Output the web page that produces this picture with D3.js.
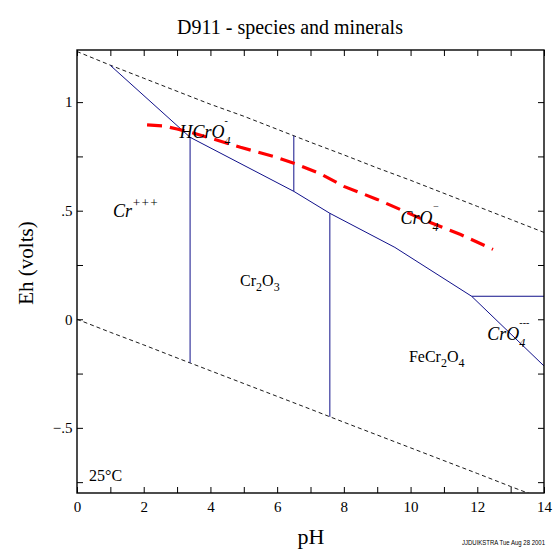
<!DOCTYPE html>
<html>
<head>
<meta charset="utf-8">
<script src="https://cdn.jsdelivr.net/npm/d3@7"></script>
<style>
  body { margin: 0; background: #fff; }
  svg text { font-family: "Liberation Serif", "DejaVu Serif", serif; fill: #000; }
  svg text.credit { font-family: "Liberation Sans", Arial, sans-serif; }
</style>
</head>
<body>
<svg id="chart" width="557" height="552"></svg>
<script>
// axis settings
const phDomain = [0, 14];
const ehDomain = [-0.8, 1.24];
const phLabels = [0, 2, 4, 6, 8, 10, 12, 14];
const ehLabels = [1, 0.5, 0, -0.5];

// water stability limits (dashed)
const upperWater = [[0, 1.233], [1, 1.17], [2, 1.11], [3, 1.05], [4, 0.99], [5, 0.935], [6, 0.875], [7, 0.815], [8, 0.757], [9, 0.697], [10, 0.64], [11, 0.58], [12, 0.52], [13, 0.46], [14, 0.40]];
const lowerWater = [[0, 0.0], [1, -0.06], [2, -0.118], [3, -0.178], [4, -0.237], [5, -0.296], [6, -0.355], [7, -0.414], [8, -0.474], [9, -0.533], [10, -0.592], [11, -0.651], [12, -0.71], [13, -0.77], [13.6, -0.805]];

// field boundaries (blue)
const mainBoundary = [[1.0, 1.169], [3.39, 0.838], [6.5, 0.589], [7.58, 0.488], [9.53, 0.331], [11.83, 0.106], [14, -0.215]];
const cr3Boundary = [[3.39, 0.838], [3.39, -0.2]];
const fecrBoundary = [[7.58, 0.488], [7.58, -0.449]];
const cro4Boundary = [[11.83, 0.106], [14, 0.106]];
const hcroBoundary = [[6.5, 0.845], [6.5, 0.589]];

// red dashed line
const redLine = [[2.1, 0.895], [2.6, 0.89], [3.0, 0.876], [3.4, 0.861], [4.0, 0.834], [4.9, 0.792], [6.0, 0.745], [6.6, 0.713], [7.3, 0.67], [8.0, 0.612], [9.0, 0.552], [10.5, 0.451], [11.5, 0.39], [12.47, 0.322]];

// species labels: [pH, Eh, main, sub, sup, italic]
const labels = [
  [3.07, 0.835, "HCrO", "4", "-", true],
  [1.08, 0.47, "Cr", "", "+++", true],
  [4.89, 0.153, "Cr", "2", "", false, "O", "3"],
  [9.7, 0.438, "CrO", "4", "−", true],
  [12.3, -0.097, "CrO", "4", "---", true],
  [9.95, -0.198, "FeCr", "2", "", false, "O", "4"]
];

const svg = d3.select('#chart');
const margin = {left: 77, right: 13, top: 50, bottom: 59};
const W = 557 - margin.left - margin.right,
      H = 552 - margin.top - margin.bottom;

const x = d3.scaleLinear().domain(phDomain).range([margin.left, margin.left + W]);
const y = d3.scaleLinear().domain(ehDomain).range([margin.top + H, margin.top]);

const line = d3.line().x(d => x(d[0])).y(d => y(d[1]));

// clip to plot box
svg.append('clipPath').attr('id', 'clip')
  .append('rect').attr('x', margin.left).attr('y', margin.top).attr('width', W).attr('height', H);

const g = svg.append('g').attr('clip-path', 'url(#clip)');

[upperWater, lowerWater].forEach(d => {
  g.append('path').datum(d)
    .attr('fill', 'none').attr('stroke', '#000').attr('stroke-width', 0.9)
    .attr('stroke-dasharray', '4,3').attr('d', line);
});

[mainBoundary, cr3Boundary, fecrBoundary, cro4Boundary, hcroBoundary].forEach(d => {
  g.append('path').datum(d)
    .attr('fill', 'none').attr('stroke', '#10108a').attr('stroke-width', 1)
    .attr('d', line);
});

g.append('path').datum(redLine)
  .attr('fill', 'none').attr('stroke', '#f00').attr('stroke-width', 3.2)
  .attr('stroke-dasharray', '15,8').attr('d', line);

// labels
labels.forEach(l => {
  const t = svg.append('text')
    .attr('x', x(l[0])).attr('y', y(l[1]))
    .attr('font-size', l[5] ? 18 : 16)
    .attr('font-style', l[5] ? 'italic' : 'normal');
  t.append('tspan').text(l[2]);
  if (l[4]) {
    // superscript and subscript stacked
    if (l[3]) {
      t.append('tspan').attr('dy', 7).attr('font-size', 12).text(l[3]);
      t.append('tspan').attr('dx', -6).attr('dy', -21).attr('font-size', 10).text(l[4]);
    } else {
      t.append('tspan').attr('dy', -10).attr('font-size', 13).text(l[4]);
    }
  } else {
    t.append('tspan').attr('dy', 5).attr('font-size', 12).text(l[3]);
    if (l[6]) {
      t.append('tspan').attr('dy', -5).text(l[6]);
      t.append('tspan').attr('dy', 5).attr('font-size', 12).text(l[7]);
    }
  }
});

svg.append('text').attr('x', 89).attr('y', 481).attr('font-size', 16).text('25°C');

// axes
const xTicks = d3.range(phDomain[0], phDomain[1] + 1, 1);
const yTicks = d3.range(-0.75, 1.24, 0.25);
const fmtY = d => d === 0 ? '0' : d3.format('.1~f')(d).replace('0.', '.');

const xb = svg.append('g').attr('transform', `translate(0,${margin.top + H})`)
  .call(d3.axisBottom(x).tickValues(xTicks).tickSizeInner(-6).tickSizeOuter(0)
    .tickFormat(d => phLabels.includes(d) ? d : ''));
const xt = svg.append('g').attr('transform', `translate(0,${margin.top})`)
  .call(d3.axisTop(x).tickValues(xTicks).tickSizeInner(-6).tickSizeOuter(0).tickFormat(''));
const yl = svg.append('g').attr('transform', `translate(${margin.left},0)`)
  .call(d3.axisLeft(y).tickValues(yTicks).tickSizeInner(-6).tickSizeOuter(0)
    .tickFormat(d => ehLabels.some(v => Math.abs(v - d) < 1e-9) ? fmtY(d) : ''));
const yr = svg.append('g').attr('transform', `translate(${margin.left + W},0)`)
  .call(d3.axisRight(y).tickValues(yTicks).tickSizeInner(-6).tickSizeOuter(0).tickFormat(''));

[xb, xt, yl, yr].forEach(a => {
  a.selectAll('.domain').remove();
  a.selectAll('line').attr('stroke', '#000').attr('stroke-width', 1);
  a.selectAll('text').attr('font-family', '"Liberation Serif", serif').attr('font-size', 15).attr('fill', '#000');
});
xb.selectAll('text').attr('dy', '1.05em');
yl.selectAll('text').attr('dx', '-0.1em');

svg.append('rect').attr('x', margin.left).attr('y', margin.top)
  .attr('width', W).attr('height', H)
  .attr('fill', 'none').attr('stroke', '#000').attr('stroke-width', 1.4);

// titles
svg.append('text').attr('x', 290).attr('y', 34).attr('text-anchor', 'middle')
  .attr('font-size', 20).text('D911 - species and minerals');
svg.append('text').attr('x', 311).attr('y', 544).attr('text-anchor', 'middle')
  .attr('font-size', 22).text('pH');
svg.append('text').attr('transform', 'translate(33,263) rotate(-90)').attr('text-anchor', 'middle')
  .attr('font-size', 21).text('Eh (volts)');
svg.append('text').attr('class', 'credit').attr('x', 462).attr('y', 545)
  .attr('font-size', 6.5).attr('textLength', 83).attr('lengthAdjust', 'spacingAndGlyphs')
  .text('JJDUIKSTRA Tue Aug 28 2001');
</script>
</body>
</html>
